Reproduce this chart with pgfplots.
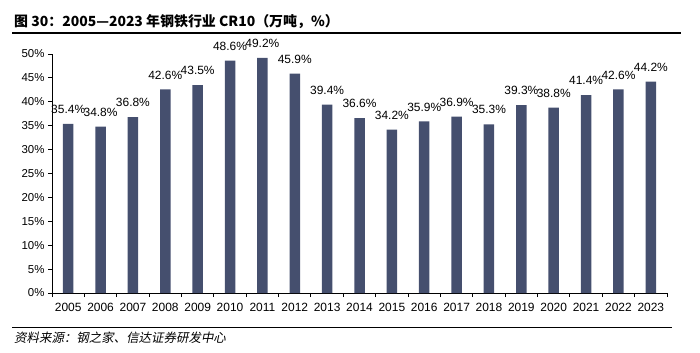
\documentclass[border=0pt]{standalone}
\usepackage{pgfplots}
\pgfplotsset{compat=1.18}
\usepackage{fontspec}
\setmainfont{Liberation Sans}
\newfontfamily\cjk{Noto Sans CJK SC}
\newfontfamily\cjkslant{Noto Sans CJK SC}[FakeSlant=0.2]
\definecolor{barc}{RGB}{69,79,110}
\begin{document}
\begin{tikzpicture}[x=1bp,y=1bp]
\path (0,0) rectangle (700,352);
% title
\node[anchor=west,inner sep=0] at (14,330) {\fontsize{14}{16}\selectfont\cjk\bfseries 图 30：2005—2023 年钢铁行业 CR10（万吨，\%）};
\draw[line width=2bp] (12,319) -- (681,319);
\draw[line width=1.2bp] (12,24.5) -- (672,24.5);
\node[anchor=west,inner sep=0] at (14,14) {\fontsize{12.5}{14}\selectfont\cjkslant 资料来源：钢之家、信达证券研发中心};
\begin{axis}[
  at={(52bp,59bp)}, anchor=south west,
  scale only axis, width=615bp, height=239bp,
  xmin=-0.5, xmax=18.5, ymin=0, ymax=50,
  axis x line*=bottom, axis y line*=left,
  axis line style={line width=1bp},
  xtick=data,
  xticklabels={2005,2006,2007,2008,2009,2010,2011,2012,2013,2014,2015,2016,2017,2018,2019,2020,2021,2022,2023},
  minor xtick={-0.5,0.5,...,18.5},
  major x tick style={draw=none},
  minor tick length=4bp,
  major tick length=4bp,
  tick style={line width=1bp,black},
  xtick align=outside, ytick align=outside,
  ytick={0,5,...,50},
  yticklabel={\pgfmathprintnumber{\tick}\%},
  /pgf/number format/assume math mode=true,
  x tick label style={font=\fontsize{12}{14}\selectfont, yshift=-3bp},
  y tick label style={font=\fontsize{11.5}{13}\selectfont},
  ybar, bar width=10.5bp,
  nodes near coords={\pgfmathprintnumber[fixed,fixed zerofill,precision=1]{\pgfplotspointmeta}\%},
  nodes near coords style={font=\fontsize{12}{14}\selectfont, anchor=south, yshift=9bp, inner sep=1bp},
  clip=false,
]
\addplot[fill=barc, draw=none] coordinates {
(0,35.4) (1,34.8) (2,36.8) (3,42.6) (4,43.5) (5,48.6) (6,49.2) (7,45.9) (8,39.4) (9,36.6)
(10,34.2) (11,35.9) (12,36.9) (13,35.3) (14,39.3) (15,38.8) (16,41.4) (17,42.6) (18,44.2)};
\end{axis}
\end{tikzpicture}
\end{document}
